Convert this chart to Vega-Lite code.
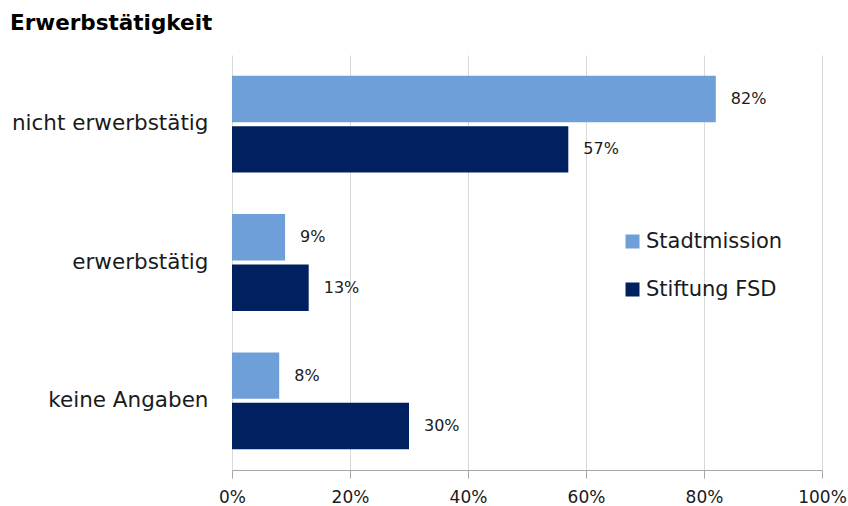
{
  "$schema": "https://vega.github.io/schema/vega-lite/v6.json",
  "autosize": "none",
  "width": 590,
  "height": 415,
  "padding": {"left": 232, "top": 55, "right": 26, "bottom": 36},
  "background": "white",
  "config": {"view": {"stroke": null}, "font": "DejaVu Sans"},
  "title": {
    "text": "Erwerbstätigkeit",
    "anchor": "start",
    "orient": "top",
    "frame": "group",
    "dx": -222,
    "dy": -17,
    "fontSize": 21.5,
    "fontWeight": "bold",
    "color": "#000000",
    "font": "DejaVu Sans"
  },
  "data": {
    "values": [
      {"kategorie": "nicht erwerbstätig", "gruppe": "Stadtmission", "wert": 0.82},
      {"kategorie": "nicht erwerbstätig", "gruppe": "Stiftung FSD", "wert": 0.57},
      {"kategorie": "erwerbstätig", "gruppe": "Stadtmission", "wert": 0.09},
      {"kategorie": "erwerbstätig", "gruppe": "Stiftung FSD", "wert": 0.13},
      {"kategorie": "keine Angaben", "gruppe": "Stadtmission", "wert": 0.08},
      {"kategorie": "keine Angaben", "gruppe": "Stiftung FSD", "wert": 0.30}
    ]
  },
  "encoding": {
    "y": {
      "field": "kategorie",
      "type": "nominal",
      "sort": ["nicht erwerbstätig", "erwerbstätig", "keine Angaben"],
      "scale": {"paddingInner": 0.3, "paddingOuter": 0.15},
      "axis": {
        "title": null,
        "domain": false,
        "ticks": false,
        "labelFontSize": 21.5,
        "labelColor": "#1a1a1a",
        "labelPadding": 24,
        "labelFont": "DejaVu Sans",
        "labelLimit": 250
      }
    },
    "yOffset": {
      "field": "gruppe",
      "type": "nominal",
      "sort": ["Stadtmission", "Stiftung FSD"],
      "scale": {"paddingInner": 0.08, "paddingOuter": 0}
    },
    "x": {
      "field": "wert",
      "type": "quantitative",
      "scale": {"domain": [0, 1], "nice": false},
      "axis": {
        "title": null,
        "format": ".0%",
        "values": [0, 0.2, 0.4, 0.6, 0.8, 1],
        "grid": true,
        "gridColor": "#d9d9d9",
        "domainColor": "#a6a6a6",
        "tickColor": "#a6a6a6",
        "tickSize": 8,
        "labelFlush": false,
        "labelFontSize": 17,
        "labelColor": "#1a1a1a",
        "labelPadding": 11,
        "labelFont": "DejaVu Sans"
      }
    }
  },
  "layer": [
    {
      "mark": {"type": "bar"},
      "encoding": {
        "color": {
          "field": "gruppe",
          "type": "nominal",
          "sort": ["Stadtmission", "Stiftung FSD"],
          "scale": {"domain": ["Stadtmission", "Stiftung FSD"], "range": ["#6f9fd8", "#002060"]},
          "legend": {
            "title": null,
            "orient": "none",
            "legendX": 390,
            "legendY": 176,
            "symbolType": "square",
            "symbolSize": 196,
            "symbolStrokeWidth": 0,
            "labelFontSize": 21,
            "labelColor": "#1a1a1a",
            "labelFont": "DejaVu Sans",
            "rowPadding": 26,
            "labelOffset": 3,
            "labelLimit": 250
          }
        }
      }
    },
    {
      "mark": {"type": "text", "align": "left", "dx": 15, "fontSize": 16, "color": "#1a1a1a", "font": "DejaVu Sans"},
      "encoding": {
        "text": {"field": "wert", "type": "quantitative", "format": ".0%"}
      }
    }
  ]
}
